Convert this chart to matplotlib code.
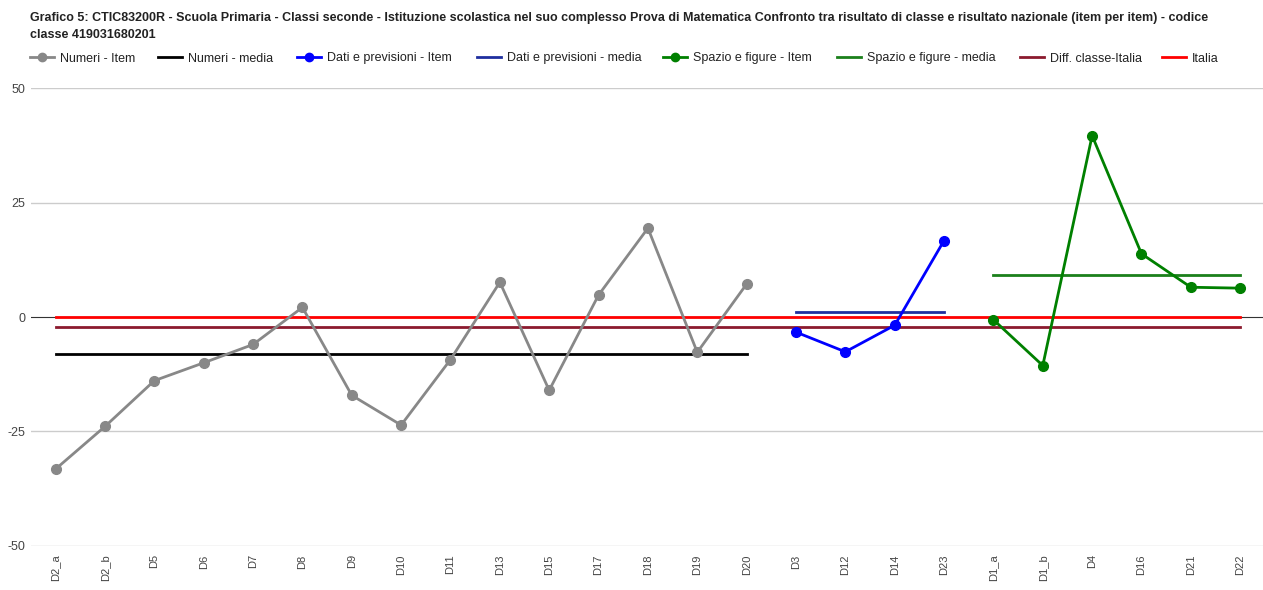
import matplotlib.pyplot as plt
from matplotlib.lines import Line2D

plt.rcParams['font.family'] = ['Liberation Sans', 'DejaVu Sans']
plt.rcParams['axes.unicode_minus'] = False

# Categorie (item) per ambito
numeri_items = ['D2_a', 'D2_b', 'D5', 'D6', 'D7', 'D8', 'D9', 'D10', 'D11',
                'D13', 'D15', 'D17', 'D18', 'D19', 'D20']
dati_items = ['D3', 'D12', 'D14', 'D23']
spazio_items = ['D1_a', 'D1_b', 'D4', 'D16', 'D21', 'D22']

# Valori (differenza classe - Italia, per item)
numeri_vals = [-33.2, -23.9, -13.9, -10.0, -6.0, 2.1, -17.1, -23.6, -9.3,
               7.6, -16.0, 4.8, 19.4, -7.7, 7.2]
dati_vals = [-3.3, -7.6, -1.8, 16.7]
spazio_vals = [-0.6, -10.6, 39.6, 13.8, 6.5, 6.3]

numeri_media = -8.0
dati_media = 1.0
spazio_media = 9.2
diff_classe_italia = -2.1
italia = 0.0

categories = numeri_items + dati_items + spazio_items
x_num = list(range(len(numeri_items)))
x_dati = list(range(len(numeri_items), len(numeri_items) + len(dati_items)))
x_spazio = list(range(len(numeri_items) + len(dati_items), len(categories)))
x_all = list(range(len(categories)))

W, H = 1263, 590
fig = plt.figure(figsize=(W / 100, H / 100), dpi=100)
ax = fig.add_axes([0.0245, 0.0746, 0.977, 0.7762])

# griglia
for v in [-50, -25, 25, 50]:
    ax.axhline(v, color='#cccccc', lw=1, zorder=0)
ax.axhline(0, color='#333333', lw=0.8, zorder=1)

c_num, c_num_m = '#888888', '#000000'
c_dati, c_dati_m = '#0000ff', '#1f2f9f'
c_sp, c_sp_m = '#008000', '#1b801b'
c_diff, c_ita = '#8b1a2e', '#ff0000'

ax.plot(x_all, [diff_classe_italia] * len(x_all), color=c_diff, lw=2, zorder=2)
ax.plot(x_all, [italia] * len(x_all), color=c_ita, lw=2, zorder=3)
ax.plot(x_num, [numeri_media] * len(x_num), color=c_num_m, lw=2, zorder=4)
ax.plot(x_dati, [dati_media] * len(x_dati), color=c_dati_m, lw=2, zorder=4)
ax.plot(x_spazio, [spazio_media] * len(x_spazio), color=c_sp_m, lw=2, zorder=4)

ax.plot(x_num, numeri_vals, color=c_num, lw=2, marker='o', ms=7, zorder=5)
ax.plot(x_dati, dati_vals, color=c_dati, lw=2, marker='o', ms=7, zorder=5)
ax.plot(x_spazio, spazio_vals, color=c_sp, lw=2, marker='o', ms=7, zorder=5)

ax.set_xlim(-0.5, len(categories) - 0.5)
ax.set_ylim(-50, 50)
ax.set_yticks([-50, -25, 0, 25, 50])
ax.set_xticks(x_all)
ax.set_xticklabels(categories, rotation=90, fontsize=8, color='#444444')
ax.tick_params(axis='y', labelsize=9, colors='#444444', length=0, pad=4)
ax.tick_params(axis='x', length=0, pad=6)
for s in ax.spines.values():
    s.set_visible(False)

fig.text(30 / W, 1 - 12 / H,
         'Grafico 5: CTIC83200R - Scuola Primaria - Classi seconde - Istituzione scolastica nel suo complesso '
         'Prova di Matematica Confronto tra risultato di classe e risultato nazionale (item per item) - codice\n'
         'classe 419031680201',
         fontsize=9, fontweight='bold', va='top', ha='left', color='#222222', linespacing=1.55)

# legenda costruita a mano per seguire le posizioni del riferimento
labels = ['Numeri - Item', 'Numeri - media', 'Dati e previsioni - Item',
          'Dati e previsioni - media', 'Spazio e figure - Item',
          'Spazio e figure - media', 'Diff. classe-Italia', 'Italia']
leg_colors = [c_num, c_num_m, c_dati, c_dati_m, c_sp, c_sp_m, c_diff, c_ita]
leg_marker = [True, False, True, False, True, False, False, False]
leg_x = [30, 158, 297, 477, 663, 837, 1020, 1162]
ly = 1 - 57 / H
ly_text = 1 - 61.5 / H
for lab, col, mk, x0 in zip(labels, leg_colors, leg_marker, leg_x):
    fig.add_artist(Line2D([x0 / W, (x0 + 24) / W], [ly, ly], color=col, lw=2,
                          transform=fig.transFigure))
    if mk:
        fig.add_artist(Line2D([(x0 + 12) / W], [ly], color=col, marker='o', ms=6,
                              transform=fig.transFigure))
    fig.text((x0 + 30) / W, ly_text, lab, fontsize=9, va='baseline', ha='left',
             color='#222222')

fig.savefig('out.png', dpi=100)
